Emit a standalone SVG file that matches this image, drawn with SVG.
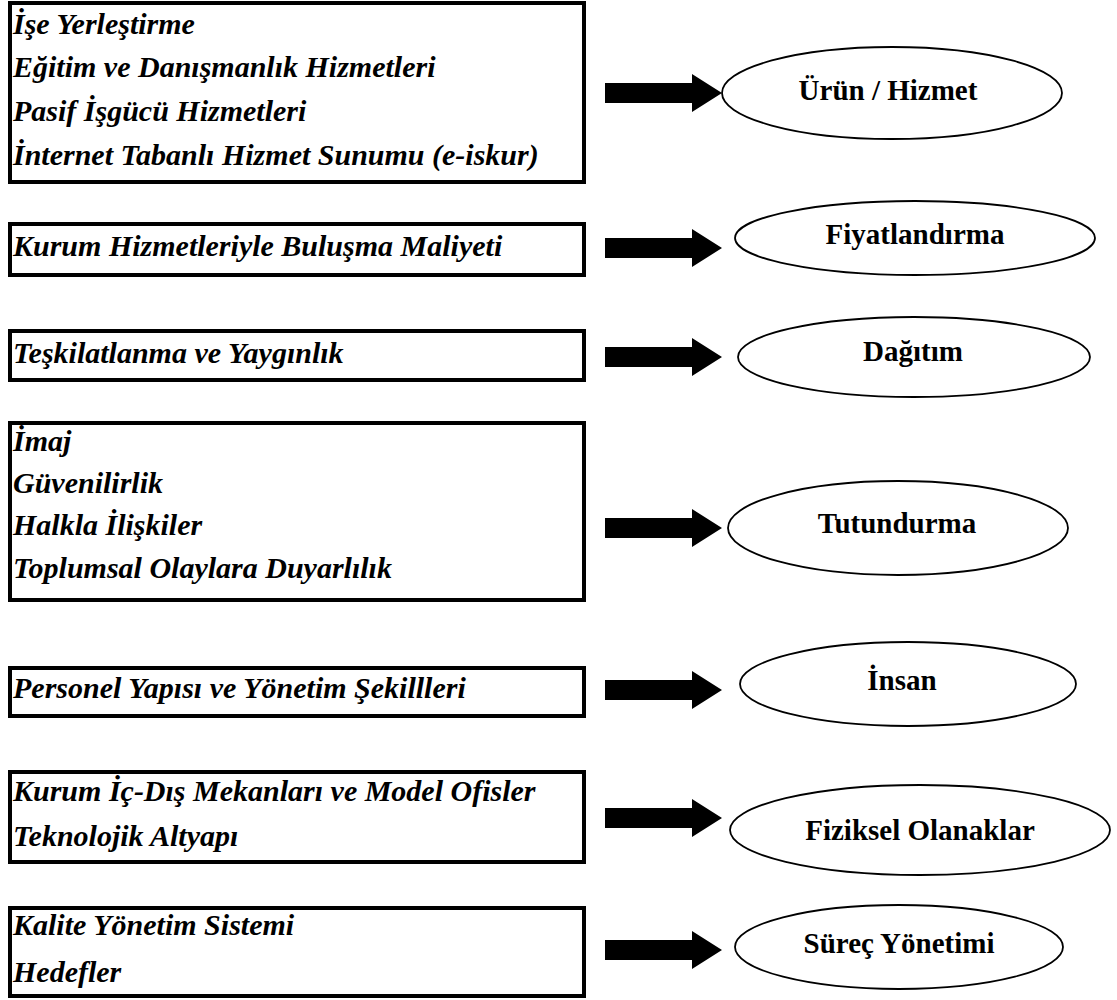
<svg xmlns="http://www.w3.org/2000/svg" xmlns:xlink="http://www.w3.org/1999/xlink" width="1117" height="1000" viewBox="0 0 1117 1000">
<style>
.box{fill:#fff;stroke:#000;stroke-width:4}
.lt{font-family:"Liberation Serif","Times New Roman",serif;font-weight:bold;font-style:italic;font-size:30px;fill:#000}
.ell{fill:#fff;stroke:#000;stroke-width:1.8}
.et{font-family:"Liberation Serif","Times New Roman",serif;font-weight:bold;font-size:29px;fill:#000;text-anchor:middle}
.arr{fill:#000}
</style>
<defs>
<path id="arrow" d="M605,-10 L692,-10 L692,-19 L722,0 L692,19 L692,10 L605,10 Z"/>
</defs>
<rect width="1117" height="1000" fill="#fff"/>

<g id="box1">
<rect class="box" x="10" y="3" width="574" height="179"/>
<text class="lt" x="13" y="34">İşe Yerleştirme</text>
<text class="lt" x="13" y="77">Eğitim ve Danışmanlık Hizmetleri</text>
<text class="lt" x="13" y="121">Pasif İşgücü Hizmetleri</text>
<text class="lt" x="13" y="165">İnternet Tabanlı Hizmet Sunumu (e-iskur)</text>
</g>
<g id="box2">
<rect class="box" x="10" y="224" width="574" height="51"/>
<text class="lt" x="13" y="256">Kurum Hizmetleriyle  Buluşma Maliyeti</text>
</g>
<g id="box3">
<rect class="box" x="10" y="331" width="574" height="49"/>
<text class="lt" x="13" y="363">Teşkilatlanma ve Yaygınlık</text>
</g>
<g id="box4">
<rect class="box" x="10" y="423" width="574" height="177"/>
<text class="lt" x="13" y="451">İmaj</text>
<text class="lt" x="13" y="493">Güvenilirlik</text>
<text class="lt" x="13" y="535">Halkla İlişkiler</text>
<text class="lt" x="13" y="578">Toplumsal Olaylara Duyarlılık</text>
</g>
<g id="box5">
<rect class="box" x="10" y="668" width="574" height="48"/>
<text class="lt" x="13" y="698">Personel Yapısı ve Yönetim Şekillleri</text>
</g>
<g id="box6">
<rect class="box" x="10" y="772" width="574" height="90"/>
<text class="lt" x="13" y="801">Kurum İç-Dış Mekanları ve Model Ofisler</text>
<text class="lt" x="13" y="846">Teknolojik Altyapı</text>
</g>
<g id="box7">
<rect class="box" x="10" y="908" width="574" height="88"/>
<text class="lt" x="13" y="935">Kalite Yönetim Sistemi</text>
<text class="lt" x="13" y="982">Hedefler</text>
</g>

<g id="connectors" class="arr">
<use xlink:href="#arrow" href="#arrow" y="93"/>
<use xlink:href="#arrow" href="#arrow" y="248"/>
<use xlink:href="#arrow" href="#arrow" y="357"/>
<use xlink:href="#arrow" href="#arrow" y="528"/>
<use xlink:href="#arrow" href="#arrow" y="690"/>
<use xlink:href="#arrow" href="#arrow" y="818"/>
<use xlink:href="#arrow" href="#arrow" y="950"/>
</g>

<g id="urun">
<ellipse class="ell" cx="892" cy="93" rx="170" ry="46"/>
<text class="et" x="888" y="100">Ürün / Hizmet</text>
</g>
<g id="fiyat">
<ellipse class="ell" cx="915" cy="238" rx="180" ry="37"/>
<text class="et" x="915" y="244">Fiyatlandırma</text>
</g>
<g id="dagitim">
<ellipse class="ell" cx="914" cy="357" rx="176" ry="40"/>
<text class="et" x="913" y="361">Dağıtım</text>
</g>
<g id="tutundurma">
<ellipse class="ell" cx="898" cy="528" rx="170" ry="47"/>
<text class="et" x="897" y="533">Tutundurma</text>
</g>
<g id="insan">
<ellipse class="ell" cx="908" cy="684" rx="168" ry="42"/>
<text class="et" x="902" y="690">İnsan</text>
</g>
<g id="fiziksel">
<ellipse class="ell" cx="920" cy="830" rx="190" ry="45"/>
<text class="et" x="920" y="840">Fiziksel Olanaklar</text>
</g>
<g id="surec">
<ellipse class="ell" cx="899" cy="947" rx="164" ry="42"/>
<text class="et" x="899" y="953">Süreç Yönetimi</text>
</g>
</svg>
